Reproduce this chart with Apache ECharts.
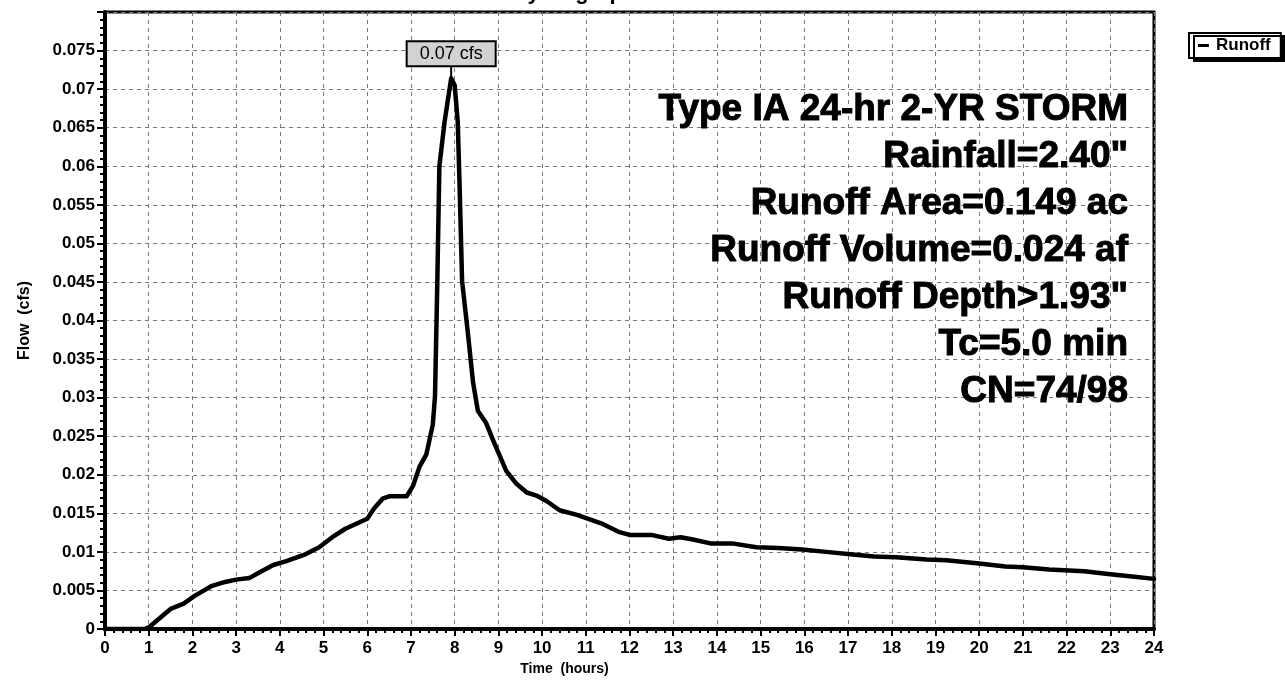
<!DOCTYPE html>
<html>
<head>
<meta charset="utf-8">
<title>Hydrograph</title>
<script src="https://cdn.jsdelivr.net/npm/echarts@6/dist/echarts.min.js"></script>
<style>
  html, body { margin: 0; padding: 0; background: #fff; }
  #chart { width: 1285px; height: 684px; }
</style>
</head>
<body>
<div id="chart"></div>
<script>
// Runoff hydrograph, time in hours and flow in cfs
const hours = [
  0, 0.9, 1.0, 1.25, 1.5, 1.8, 2.05, 2.45, 2.75, 3.0, 3.3, 3.55, 3.85, 4.15, 4.55,
  4.9, 5.2, 5.5, 5.85, 6.0, 6.15, 6.35, 6.5, 6.9, 7.05, 7.2, 7.35, 7.5, 7.55, 7.6,
  7.65, 7.77, 7.92, 8.0, 8.07, 8.11, 8.17, 8.3, 8.42, 8.53, 8.72, 8.9, 9.18, 9.4,
  9.65, 9.87, 10.1, 10.4, 10.8, 11.35, 11.75, 12.0, 12.5, 12.9, 13.17, 13.45,
  13.85, 14.35, 14.9, 15.4, 15.95, 16.5, 17.05, 17.6, 18.1, 18.8, 19.25, 20.0,
  20.6, 21.0, 21.6, 22.4, 23.0, 23.5, 24.0
];
const flowCfs = [
  0, 0, 0.0002, 0.0014, 0.0026, 0.0033, 0.0043, 0.0056, 0.0061, 0.0064, 0.0066,
  0.0074, 0.0083, 0.0088, 0.0096, 0.0106, 0.0119, 0.013, 0.0139, 0.0143, 0.0156,
  0.0169, 0.0172, 0.0172, 0.0186, 0.0211, 0.0226, 0.0265, 0.0302, 0.0441, 0.06,
  0.0658, 0.0714, 0.0705, 0.0658, 0.058, 0.0451, 0.0385, 0.032, 0.0283, 0.0267,
  0.0242, 0.0205, 0.0189, 0.0177, 0.0173, 0.0166, 0.0154, 0.0148, 0.0137, 0.0126,
  0.0122, 0.0122, 0.0117, 0.0119, 0.0116, 0.0111, 0.0111, 0.0106, 0.0105, 0.0103,
  0.01, 0.0097, 0.0094, 0.0093, 0.009, 0.0089, 0.0085, 0.0081, 0.008, 0.0077,
  0.0075, 0.0071, 0.0068, 0.0065
];
const stormNotes = [
  'Type IA 24-hr 2-YR STORM',
  'Rainfall=2.40"',
  'Runoff Area=0.149 ac',
  'Runoff Volume=0.024 af',
  'Runoff Depth>1.93"',
  'Tc=5.0 min',
  'CN=74/98'
];
const seriesName = 'Runoff';
const chartTitle = 'Hydrograph';
const xAxisName = 'Time  (hours)';
const yAxisName = 'Flow  (cfs)';

const FONT = '"Liberation Sans", Arial, Helvetica, sans-serif';

const points = hours.map((h, i) => [h, flowCfs[i]]);
let peakIdx = 0;
flowCfs.forEach((v, i) => { if (v > flowCfs[peakIdx]) peakIdx = i; });
const peakPoint = points[peakIdx];

const chart = echarts.init(document.getElementById('chart'), null, { renderer: 'canvas' });

const gridDash = { color: '#7a7a7a', width: 1, type: [4, 4] };

chart.setOption({
  animation: false,
  backgroundColor: '#fff',
  textStyle: { fontFamily: FONT },
  grid: {
    left: 105, right: 131, top: 12, bottom: 55,
    show: true, borderColor: '#000', borderWidth: 3, backgroundColor: 'transparent'
  },
  legend: {
    data: [seriesName],
    left: 1189, top: 33,
    icon: 'rect', itemWidth: 11, itemHeight: 3,
    itemGap: 4,
    padding: [4, 10, 4, 9],
    backgroundColor: '#fff',
    borderColor: '#000', borderWidth: 2,
    shadowColor: '#000', shadowBlur: 0, shadowOffsetX: 5, shadowOffsetY: 3,
    textStyle: { fontFamily: FONT, fontSize: 17, fontWeight: 'bold', color: '#000', padding: [0, 0, 0, 2] }
  },
  xAxis: {
    type: 'value', min: 0, max: 24, interval: 1,
    name: xAxisName, nameLocation: 'middle', nameGap: 30,
    nameTextStyle: {
      fontFamily: FONT, fontSize: 14, fontWeight: 'bold', color: '#000',
      padding: [0, 130, 0, 0]
    },
    axisLine: { show: true, lineStyle: { color: '#000', width: 4 } },
    axisTick: { show: true, inside: false, length: 7, lineStyle: { color: '#000', width: 2 } },
    minorTick: { show: true, splitNumber: 5, length: 4, lineStyle: { color: '#000', width: 2 } },
    axisLabel: { margin: 11, fontFamily: FONT, fontSize: 17, fontWeight: 'bold', color: '#000' },
    splitLine: { show: true, lineStyle: gridDash }
  },
  yAxis: {
    type: 'value', min: 0, max: 0.08, interval: 0.005,
    name: yAxisName, nameLocation: 'middle', nameGap: 72, nameRotate: 90,
    nameTextStyle: { fontFamily: FONT, fontSize: 16, fontWeight: 'bold', color: '#000' },
    axisLine: { show: true, lineStyle: { color: '#000', width: 4 } },
    axisTick: { show: true, inside: false, length: 8, lineStyle: { color: '#000', width: 2 } },
    minorTick: { show: true, splitNumber: 5, length: 5, lineStyle: { color: '#000', width: 2 } },
    axisLabel: {
      margin: 10, fontFamily: FONT, fontSize: 17, fontWeight: 'bold', color: '#000',
      showMaxLabel: false,
      formatter: v => String(parseFloat(v.toFixed(3)))
    },
    splitLine: { show: true, lineStyle: gridDash }
  },
  series: [{
    name: seriesName,
    type: 'line',
    data: points,
    showSymbol: false,
    symbol: 'none',
    smooth: false,
    lineStyle: { color: '#000', width: 4.5, join: 'round', cap: 'round' },
    itemStyle: { color: '#000' },
    z: 5,
    markPoint: {
      silent: true,
      symbol: 'rect',
      symbolSize: [2, 12],
      symbolOffset: [0, -7],
      itemStyle: { color: '#000' },
      label: {
        show: true,
        position: 'top',
        distance: 0,
        formatter: p => p.value.toFixed(2) + ' cfs',
        fontFamily: FONT, fontSize: 18, color: '#000',
        backgroundColor: '#d2d2d2',
        borderColor: '#000', borderWidth: 2,
        padding: [3, 12, 2, 12]
      },
      data: [{ coord: peakPoint, value: peakPoint[1] }]
    }
  }],
  graphic: [
    {
      type: 'text',
      style: {
        x: 574, y: -7,
        text: chartTitle,
        align: 'center', verticalAlign: 'middle',
        font: 'bold 22px ' + FONT, fill: '#000'
      }
    },
    {
      type: 'text',
      z: 10,
      style: {
        x: 1128, y: 86,
        text: stormNotes.join('\n'),
        align: 'right', verticalAlign: 'top',
        lineHeight: 47,
        font: 'bold 37px ' + FONT, fill: '#000',
        stroke: '#000', lineWidth: 1
      }
    }
  ]
});
</script>
</body>
</html>
